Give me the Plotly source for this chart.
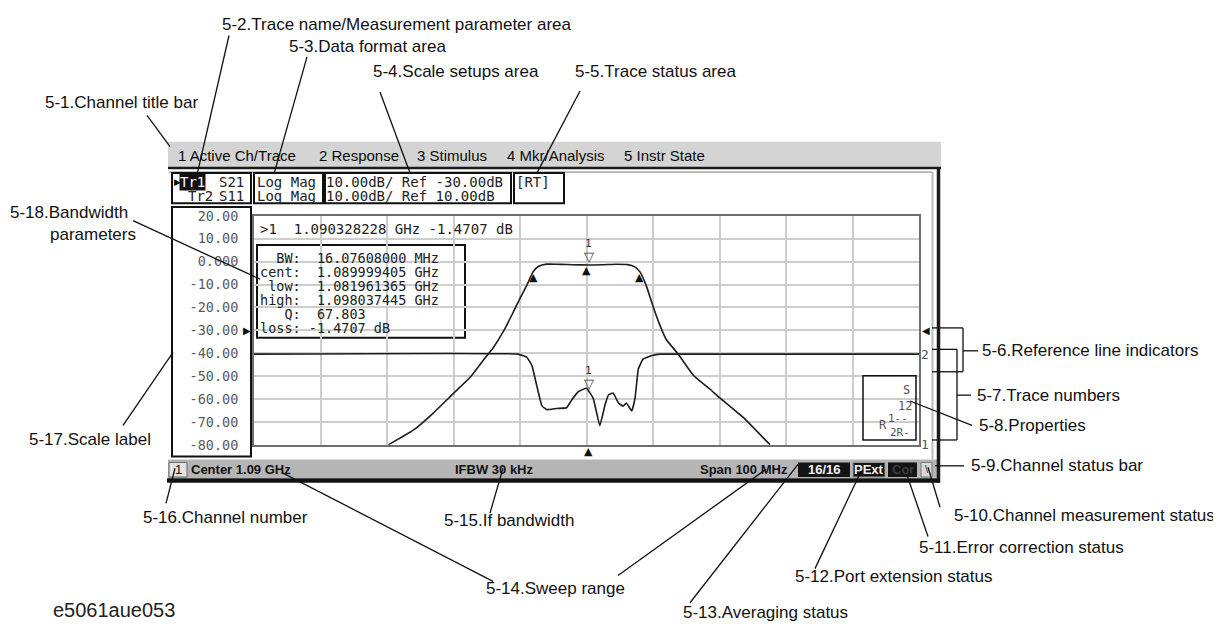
import numpy as np
import plotly.graph_objects as go

W, H = 1221, 632
OFF = 8  # page body margin of the browser

# ---------------- data ----------------
center_ghz = 1.09
span_ghz = 0.100
ifbw_khz = 30
n_div = 10
ref_pos_div = 5
tr1_ref_db, tr1_per_div = -30.0, 10.0
tr2_ref_db, tr2_per_div = 10.0, 10.0

s21_freq_ghz = [1.0602, 1.0640, 1.0670, 1.0700, 1.0725, 1.0745, 1.0760, 1.0775, 1.0790, 1.0800,
                1.0810, 1.08196, 1.0828, 1.0840, 1.0860, 1.0880, 1.0903, 1.0925, 1.0945, 1.0962,
                1.0972, 1.09804, 1.0990, 1.1000, 1.1010, 1.1020, 1.1038, 1.1061, 1.1085, 1.1101,
                1.1136, 1.1176]
s21_db = [-80.0, -73.5, -66.0, -57.5, -50.5, -43.0, -37.5, -30.5, -22.0, -16.0,
          -10.5, -4.47, -2.0, -1.1, -1.2, -1.35, -1.47, -1.35, -1.15, -1.3,
          -2.2, -4.47, -10.6, -19.5, -27.5, -34.0, -40.4, -49.7, -55.5, -59.6,
          -68.1, -80.0]

s11_freq_ghz = [1.0400, 1.0797, 1.0810, 1.0818, 1.0825, 1.0833, 1.0840, 1.0855, 1.0870, 1.0878,
                1.0888, 1.0900, 1.0910, 1.0920, 1.0928, 1.0933, 1.0940, 1.0948, 1.0955, 1.0960,
                1.0968, 1.0973, 1.0978, 1.0985, 1.1000, 1.1011, 1.1400]
s11_db = [-0.4, -0.4, -1.7, -5.4, -13.9, -23.0, -24.6, -24.1, -23.8, -20.3,
          -16.7, -15.3, -19.6, -31.6, -22.4, -18.2, -17.4, -21.7, -23.1, -21.7,
          -25.2, -19.6, -6.8, -2.6, -0.85, -0.4, -0.4]

marker_freq_ghz = 1.090328228
marker_s21_db = -1.4707
bw_low_ghz = 1.081961365
bw_center_ghz = 1.089999405
bw_high_ghz = 1.098037445

scale_tick_vals = [20, 10, 0, -10, -20, -30, -40, -50, -60, -70, -80]
scale_tick_text = ["20.00", "10.00", "0.000", "-10.00", "-20.00", "-30.00",
                   "-40.00", "-50.00", "-60.00", "-70.00", "-80.00"]

menu_items = ["1 Active Ch/Trace", "2 Response", "3 Stimulus", "4 Mkr/Analysis", "5 Instr State"]
menu_x = [176, 317, 415, 505, 622]

bw_labels = ["BW:", "cent:", "low:", "high:", "Q:", "loss:"]

# ---------------- helpers ----------------
LAB = "Liberation Sans, Arial, sans-serif"
MONO = "DejaVu Sans Mono, monospace"
SYM = "DejaVu Sans, sans-serif"
NB = "\u00a0"

shapes, ann = [], []


def px(x):
    return (x - OFF) / W


def py(y):
    return 1 - (y - OFF) / H


def T(x, y, s, size=17, fam=LAB, color="#111", xa="left", ya="middle", **kw):
    ann.append(dict(x=px(x), y=py(y), xref="paper", yref="paper", text=s, showarrow=False,
                    xanchor=xa, yanchor=ya, font=dict(family=fam, size=size, color=color), **kw))


def L(x0, y0, x1, y1, w=1.3, c="#111", layer="above"):
    shapes.append(dict(type="line", xref="paper", yref="paper", x0=px(x0), y0=py(y0),
                       x1=px(x1), y1=py(y1), line=dict(color=c, width=w), layer=layer))


def R(x0, y0, x1, y1, fill="rgba(0,0,0,0)", lc="rgba(0,0,0,0)", lw=1, layer="above"):
    shapes.append(dict(type="rect", xref="paper", yref="paper", x0=px(x0), y0=py(y1),
                       x1=px(x1), y1=py(y0), fillcolor=fill, line=dict(color=lc, width=lw),
                       layer=layer))


def D(x, y, s, size=11, color="#111", ya="top", yshift=0, yref="y", fam=SYM):
    ann.append(dict(x=x, y=y, xref="x", yref=yref, text=s, showarrow=False, xanchor="center",
                    yanchor=ya, yshift=yshift, font=dict(family=fam, size=size, color=color)))


# ---------------- instrument screen frame ----------------
R(168, 137, 941, 163, fill="#d4d4d4", layer="below")
for s, x in zip(menu_items, menu_x):
    T(x, 151, s, size=15, fam=LAB, color="#0a0a0a")
L(168, 164, 941, 164, w=2.5, c="#1a1a1a")
L(938.5, 163, 938.5, 487, w=3.5, c="#1a1a1a")
L(932.5, 168, 932.5, 463, w=2, c="#bcbcbc")
L(169, 168, 932, 168, w=2, c="#bcbcbc")

# top info boxes
R(172, 169, 251, 200, lc="#111", lw=2)
R(254, 169, 323, 200, lc="#111", lw=2)
R(325, 169, 511, 200, lc="#111", lw=2)
R(514, 169, 564, 200, lc="#111", lw=2)
T(172, 178.5, "▶", size=9, fam=SYM)
T(179, 178.5, "Tr1", size=14, fam=MONO, color="#fff", bgcolor="#111", borderpad=0)
T(186, 193, "Tr2", size=14, fam=MONO, color="#222")
T(217, 178.5, "S21", size=14, fam=MONO, color="#222")
T(217, 193, "S11", size=14, fam=MONO, color="#222")
T(255, 178.5, "Log" + NB + "Mag", size=14, fam=MONO, color="#222")
T(255, 193, "Log" + NB + "Mag", size=14, fam=MONO, color="#222")
T(324, 178.5, f"{tr1_per_div:.2f}dB/{NB}Ref{NB}{tr1_ref_db:.2f}dB", size=14, fam=MONO, color="#222")
T(324, 193, f"{tr2_per_div:.2f}dB/{NB}Ref{NB}{tr2_ref_db:.2f}dB", size=14, fam=MONO, color="#222")
T(514, 178.5, "[RT]", size=14, fam=MONO, color="#222")

# scale label box
R(172, 204, 251, 460, lc="#111", lw=2)

# marker readout row
T(258, 227, f">1{NB}{NB}{marker_freq_ghz:.9f}{NB}GHz{NB}{marker_s21_db:.4f}{NB}dB",
  size=14, fam=MONO, color="#222")

# bandwidth parameter box
bw_mhz = (bw_high_ghz - bw_low_ghz) * 1000
q_val = bw_center_ghz / (bw_high_ghz - bw_low_ghz)
bw_values = [f"{bw_mhz:.8f} MHz", f"{bw_center_ghz:.9f} GHz", f"{bw_low_ghz:.9f} GHz",
             f"{bw_high_ghz:.9f} GHz", f"{q_val:.3f}", f"{marker_s21_db:.4f} dB"]
R(257, 243, 465, 338, fill="#ffffff", lc="#111", lw=2, layer="between")
for i, (lab, val) in enumerate(zip(bw_labels, bw_values)):
    row = lab.rjust(5) + " " + ("" if val.startswith("-") else " ") + val
    T(258, 256 + i * 14.4, row.replace(" ", NB), size=13.5, fam=MONO, color="#222")

# properties box
R(863, 377, 916, 443, lc="#111", lw=1.5)
T(912, 391.5, "S", size=12, fam=MONO, color="#555", xa="right")
T(914, 408, "12", size=12, fam=MONO, color="#555", xa="right")
T(877, 428, "R", size=12, fam=MONO, color="#555")
T(886, 420.5, "1--", size=11, fam=MONO, color="#555")
T(888, 435.5, "2R-", size=11, fam=MONO, color="#555")

# channel status bar
R(168, 463, 937, 482, fill="#b5b5b5", layer="below")
L(167, 484.5, 940, 484.5, w=4.5, c="#111")
R(169, 466, 187, 481, fill="#e2e2e2", lc="#666", lw=1)
T(178, 473.5, "1", size=13, fam=LAB, color="#111", xa="center")
T(189, 473.5, f"<b>Center {center_ghz:g} GHz</b>", size=13, fam=LAB, color="#111")
T(453, 473.5, f"<b>IFBW {ifbw_khz} kHz</b>", size=13, fam=LAB, color="#111")
T(698, 473.5, f"<b>Span {span_ghz * 1000:g} MHz</b>", size=13, fam=LAB, color="#111")
R(798, 466, 850, 481, fill="#141414")
T(824, 473.5, "<b>16/16</b>", size=13, fam=LAB, color="#f2f2f2", xa="center")
R(853, 466, 885, 481, fill="#141414", lc="#9a9a9a", lw=1)
T(869, 473.5, "<b>PExt</b>", size=13, fam=LAB, color="#f2f2f2", xa="center")
R(888, 466, 917, 481, fill="#141414")
T(902.5, 473.5, "<b>Cor</b>", size=13, fam=LAB, color="#3c3c3c", xa="center")
R(921, 466, 932, 481, fill="#d8d8d8", lc="#777", lw=1)
T(926.5, 473, "\\", size=11, fam=LAB, color="#333", xa="center")

# ---------------- callout labels and leader lines ----------------
T(220, 17, "5-2.Trace name/Measurement parameter area")
L(229, 28, 197, 171)
T(287, 39, "5-3.Data format area")
L(307, 50, 274, 170)
T(371, 65, "5-4.Scale setups area")
L(380, 86, 410, 169)
T(573, 65, "5-5.Trace status area")
L(580, 85, 537, 169)
T(43, 97, "5-1.Channel title bar")
L(147, 110, 170, 142)

T(8, 210, "5-18.Bandwidth")
T(48, 232, "parameters")
L(133, 218, 260, 278)
T(27, 442, "5-17.Scale label")
L(123, 428, 173, 353)

T(980, 351, "5-6.Reference line indicators")
L(932, 328, 963, 328); L(963, 328, 963, 373); L(932, 373, 963, 373); L(963, 351.5, 978, 351.5)
T(975, 397, "5-7.Trace numbers")
L(932, 350, 957, 350); L(957, 350, 957, 443); L(932, 443, 957, 443); L(957, 397, 971, 397)
T(977, 428, "5-8.Properties")
L(910, 403, 972, 428)
T(969, 469, "5-9.Channel status bar")
L(935, 469.5, 964, 469.5)

T(952, 520, "5-10.Channel measurement status")
L(928, 471, 940, 512)
T(917, 553, "5-11.Error correction status")
L(905, 473, 928, 542)
T(793, 583, "5-12.Port extension status")
L(862, 473, 815, 575)
T(681, 620, "5-13.Averaging status")
L(798, 468, 690, 610)
T(484, 595, "5-14.Sweep range")
L(283, 477, 493, 588)
L(618, 582, 766, 473)
T(442, 526, "5-15.If bandwidth")
L(503, 472, 490, 518)
T(141, 523, "5-16.Channel number")
L(175, 472, 166, 508)
T(51, 617, "e5061aue053", size=20, color="#222")

# ---------------- traces ----------------
fig = go.Figure()
fig.add_trace(go.Scatter(x=s21_freq_ghz, y=s21_db, mode="lines", yaxis="y",
                         line=dict(color="#1c1c1c", width=1.6, shape="spline", smoothing=0.5),
                         hoverinfo="skip", showlegend=False))
fig.add_trace(go.Scatter(x=s11_freq_ghz, y=s11_db, mode="lines", yaxis="y2",
                         line=dict(color="#1c1c1c", width=1.6, shape="spline", smoothing=0.3),
                         hoverinfo="skip", showlegend=False))

y1_lo = tr1_ref_db - ref_pos_div * tr1_per_div
y1_hi = tr1_ref_db + (n_div - ref_pos_div) * tr1_per_div
y2_lo = tr2_ref_db - ref_pos_div * tr2_per_div
y2_hi = tr2_ref_db + (n_div - ref_pos_div) * tr2_per_div

# marker symbols
s21_at_center = float(np.interp(bw_center_ghz, s21_freq_ghz, s21_db))
s11_at_marker = float(np.interp(marker_freq_ghz, s11_freq_ghz, s11_db))
bw_level = marker_s21_db - 3.0
D(bw_low_ghz, bw_level, "▲", size=11, yshift=3)
D(bw_high_ghz, bw_level, "▲", size=11, yshift=3)
D(bw_center_ghz, s21_at_center, "▲", size=11, yshift=3)
D(marker_freq_ghz, marker_s21_db, "▽", size=13, ya="bottom", yshift=-1, color="#333")
D(marker_freq_ghz, marker_s21_db, "1", size=11, ya="bottom", yshift=13, color="#333", fam=MONO)
D(marker_freq_ghz, s11_at_marker, "▽", size=13, ya="bottom", yshift=-1, yref="y2", color="#333")
D(marker_freq_ghz, s11_at_marker, "1", size=11, ya="bottom", yshift=13, yref="y2", color="#333", fam=MONO)
ann.append(dict(x=marker_freq_ghz, y=py(449), xref="x", yref="paper", text="▲", showarrow=False,
                xanchor="center", yanchor="top", yshift=3,
                font=dict(family=SYM, size=11, color="#111")))

# reference line indicators and trace numbers
ann.append(dict(x=px(253), y=tr1_ref_db, xref="paper", yref="y", text="▶", showarrow=False,
                xanchor="right", yanchor="middle", font=dict(family=SYM, size=10, color="#111")))
ann.append(dict(x=px(920), y=tr2_ref_db, xref="paper", yref="y2", text="◀", showarrow=False,
                xanchor="left", yanchor="middle", font=dict(family=SYM, size=10, color="#111")))
ann.append(dict(x=px(919), y=min(max(s11_db[-1], y2_lo), y2_hi), xref="paper", yref="y2", text="2",
                showarrow=False, xanchor="left", yanchor="middle",
                font=dict(family=MONO, size=13, color="#555")))
ann.append(dict(x=px(919), y=min(max(s21_db[-1], y1_lo), y1_hi), xref="paper", yref="y", text="1",
                showarrow=False, xanchor="left", yanchor="middle",
                font=dict(family=MONO, size=13, color="#555")))

fig.update_layout(
    width=W, height=H, margin=dict(l=0, r=0, t=0, b=0),
    paper_bgcolor="#ffffff", plot_bgcolor="rgba(0,0,0,0)",
    showlegend=False,
    xaxis=dict(domain=[px(254), px(919)],
               range=[center_ghz - span_ghz / 2, center_ghz + span_ghz / 2],
               tick0=center_ghz - span_ghz / 2, dtick=span_ghz / n_div,
               showticklabels=False, ticks="", showgrid=True, gridcolor="#cdcdcd", gridwidth=1.6,
               zeroline=False, showline=True, linecolor="#6e6e6e", linewidth=2, mirror=True,
               fixedrange=True),
    yaxis=dict(domain=[py(448), py(213)], range=[y1_lo, y1_hi],
               tickmode="array", tickvals=scale_tick_vals, ticktext=scale_tick_text,
               tickfont=dict(family=MONO, size=13.5, color="#5a5a5a"), ticks="",
               ticklabelstandoff=11,
               showgrid=True, gridcolor="#cdcdcd", gridwidth=1.6, zeroline=False,
               showline=True, linecolor="#6e6e6e", linewidth=2, mirror=True, fixedrange=True),
    yaxis2=dict(overlaying="y", range=[y2_lo, y2_hi], visible=False, fixedrange=True),
    shapes=shapes, annotations=ann,
)

fig.write_html("out.html")
